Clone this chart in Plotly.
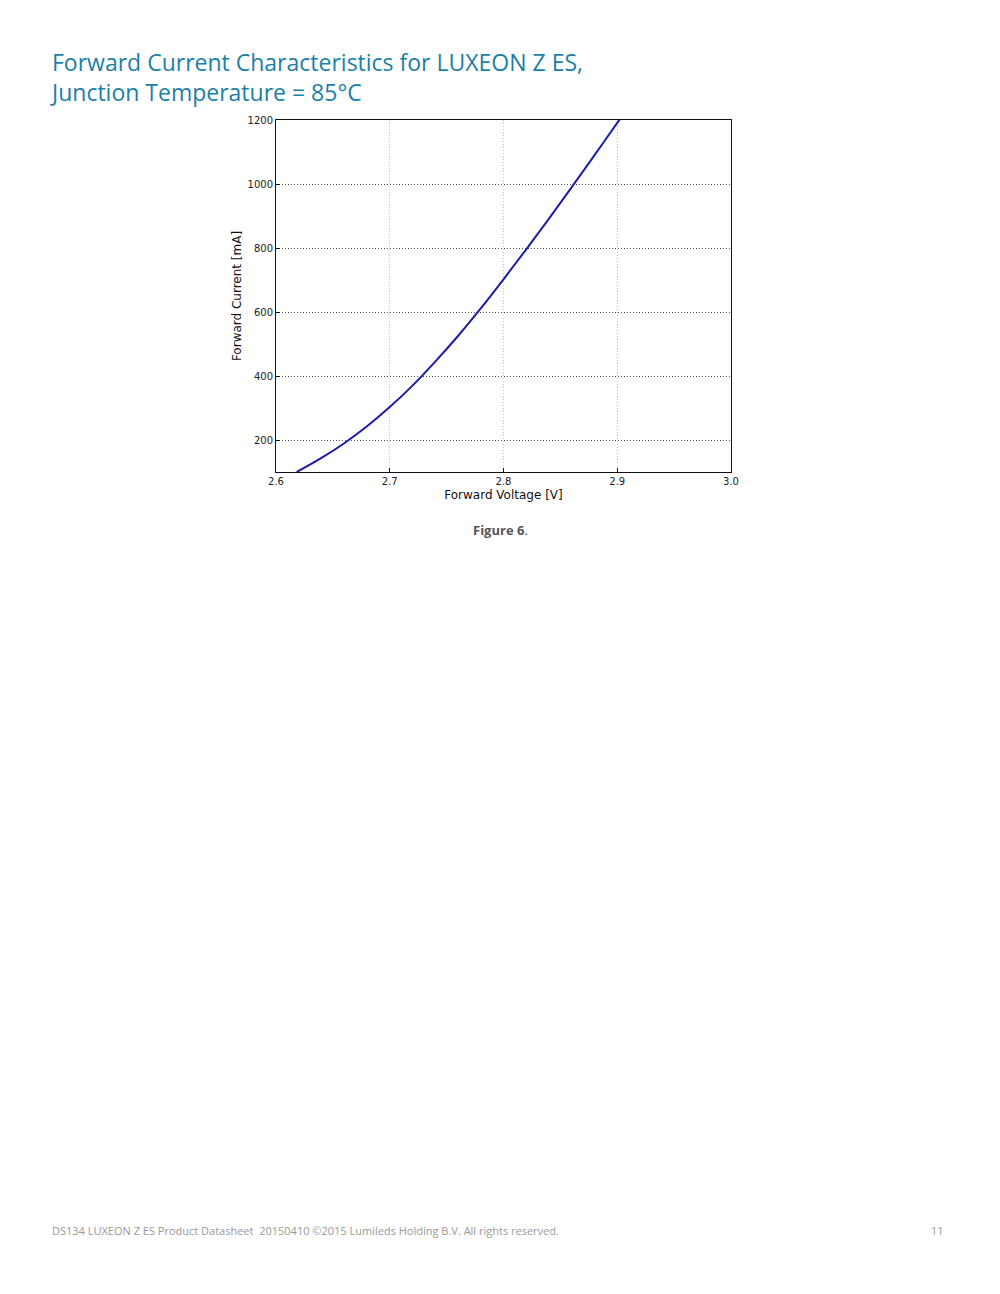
import plotly.graph_objects as go

# Forward voltage [V] vs forward current [mA] (Tj = 85 C)
voltage = [2.6182, 2.64, 2.66, 2.68, 2.70, 2.72, 2.74, 2.76, 2.78, 2.80,
           2.82, 2.84, 2.86, 2.88, 2.90, 2.9024]
current = [100, 144, 190, 243, 303, 370, 445, 525, 611, 702,
           796, 892, 990, 1090, 1191, 1203]

x_ticks = [2.6, 2.7, 2.8, 2.9, 3.0]
y_ticks = [200, 400, 600, 800, 1000, 1200]

TITLE_COLOR = "#1b7fa7"
TICK_FONT = dict(family="DejaVu Sans", size=10, color="#222")

# the page renders with an 8px body offset, so margins are pulled in by 8px
L, T, W, H = 268, 112, 455, 352

fig = go.Figure()
fig.add_trace(go.Scatter(x=voltage, y=current, mode="lines", line_shape="spline",
                         line=dict(color="#1c1caa", width=2), showlegend=False))

fig.update_xaxes(range=[2.6, 3.0], tickvals=x_ticks, tickformat=".1f",
                 showline=True, linecolor="#111", linewidth=1, mirror=True,
                 ticks="inside", ticklen=4, tickcolor="#111",
                 showgrid=True, gridcolor="#c4c4c4", griddash="1px,2px", gridwidth=1,
                 zeroline=False, tickfont=TICK_FONT,
                 title=dict(text="Forward Voltage [V]", standoff=4,
                            font=dict(family="DejaVu Sans", size=12, color="#111")))
fig.update_yaxes(range=[100, 1200], tickvals=y_ticks,
                 showline=True, linecolor="#111", linewidth=1, mirror=True,
                 ticks="inside", ticklen=4, tickcolor="#111",
                 showgrid=True, gridcolor="#555555", griddash="1px,2px", gridwidth=1,
                 zeroline=False, tickfont=TICK_FONT,
                 title=dict(text="Forward Current [mA]", standoff=3,
                            font=dict(family="DejaVu Sans", size=12, color="#111")))

fig.update_layout(
    width=1000, height=1294,
    margin=dict(l=L, r=1000 - L - W, t=T, b=1294 - T - H),
    paper_bgcolor="white", plot_bgcolor="white",
)

# page heading
fig.add_annotation(text="Forward Current Characteristics for LUXEON Z ES,<br>Junction Temperature = 85°C",
                   xref="paper", yref="paper", x=(40 - L) / W, y=1 + (T - 36) / H,
                   xanchor="left", yanchor="top", align="left", showarrow=False,
                   font=dict(family="Open Sans", size=23, color=TITLE_COLOR))

# caption
fig.add_annotation(text="<b>Figure 6</b>.", xref="paper", yref="paper",
                   x=(492 - L) / W, y=-(522 - T - H) / H,
                   xanchor="center", yanchor="middle", showarrow=False,
                   font=dict(family="Open Sans", size=13, color="#555"))

# footer
fig.add_annotation(text="DS134 LUXEON Z ES Product Datasheet  20150410 ©2015 Lumileds Holding B.V. All rights reserved.",
                   xref="paper", yref="paper", x=(42 - L) / W, y=-(1222 - T - H) / H,
                   xanchor="left", yanchor="middle", showarrow=False,
                   font=dict(family="Open Sans", size=11, color="#999"))
fig.add_annotation(text="11", xref="paper", yref="paper",
                   x=(938 - L) / W, y=-(1222 - T - H) / H,
                   xanchor="right", yanchor="middle", showarrow=False,
                   font=dict(family="Open Sans", size=11, color="#999"))

fig.write_html("out.html")
